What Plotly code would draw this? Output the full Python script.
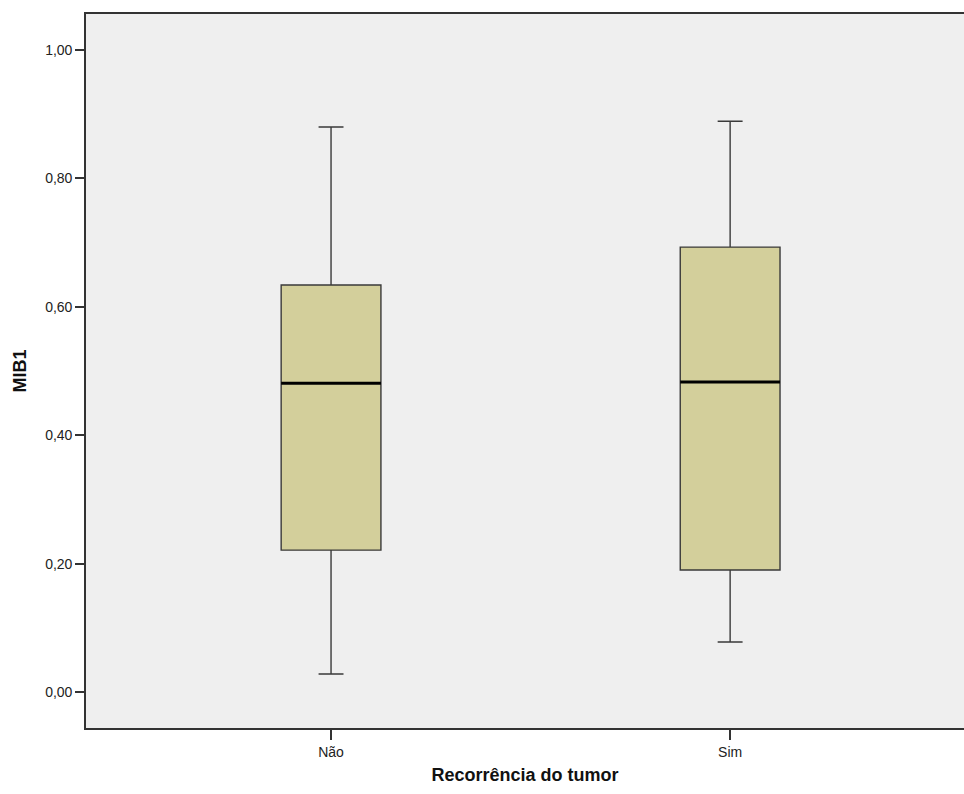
import plotly.graph_objects as go

categories = ["Não", "Sim"]
lower_whisker = [0.028, 0.078]
q1_values = [0.221, 0.190]
median_values = [0.481, 0.483]
q3_values = [0.634, 0.693]
upper_whisker = [0.880, 0.889]
y_ticks = [0.0, 0.2, 0.4, 0.6, 0.8, 1.0]

box_width = 0.25
fill_color = "#d3cf9b"
line_color = "#3a3a3a"

fig = go.Figure()
fig.add_trace(go.Box(
    x=categories,
    q1=q1_values,
    median=median_values,
    q3=q3_values,
    lowerfence=lower_whisker,
    upperfence=upper_whisker,
    width=box_width,
    whiskerwidth=0.25,
    fillcolor=fill_color,
    line=dict(color=line_color, width=1.4),
    boxpoints=False,
    hoverinfo="skip",
    showlegend=False,
))

# thick median lines, drawn from data
for i, m in enumerate(median_values):
    fig.add_shape(type="line", xref="x", yref="y",
                  x0=i - box_width / 2, x1=i + box_width / 2, y0=m, y1=m,
                  line=dict(color="#000000", width=3))

font_family = "Liberation Sans, Arial, sans-serif"
fig.update_layout(
    width=964, height=794,
    margin=dict(l=86, r=0, t=14, b=66),
    paper_bgcolor="white",
    plot_bgcolor="#efefef",
    separators=",.",
    font=dict(family=font_family, color="#222222"),
    xaxis=dict(
        type="category",
        range=[-0.614, 1.586],
        showline=True, mirror=True, linecolor="#333333", linewidth=1.6,
        ticks="outside", ticklen=10, tickwidth=1.5, tickcolor="#333333",
        tickfont=dict(size=14, family=font_family, color="#222222"),
        showgrid=False, zeroline=False,
        title=dict(text="<b>Recorrência do tumor</b>",
                   font=dict(size=18, family=font_family, color="#111111"),
                   standoff=10),
    ),
    yaxis=dict(
        range=[-0.056, 1.056],
        tickvals=y_ticks, tickformat=".2f",
        showline=True, linecolor="#333333", linewidth=1.6,
        ticks="outside", ticklen=9, tickwidth=1.5, tickcolor="#333333",
        tickfont=dict(size=14, family=font_family, color="#222222"),
        showgrid=False, zeroline=False,
        title=dict(text="<b>MIB1</b>",
                   font=dict(size=18, family=font_family, color="#111111"),
                   standoff=14),
    ),
)

fig.write_html("out.html")
